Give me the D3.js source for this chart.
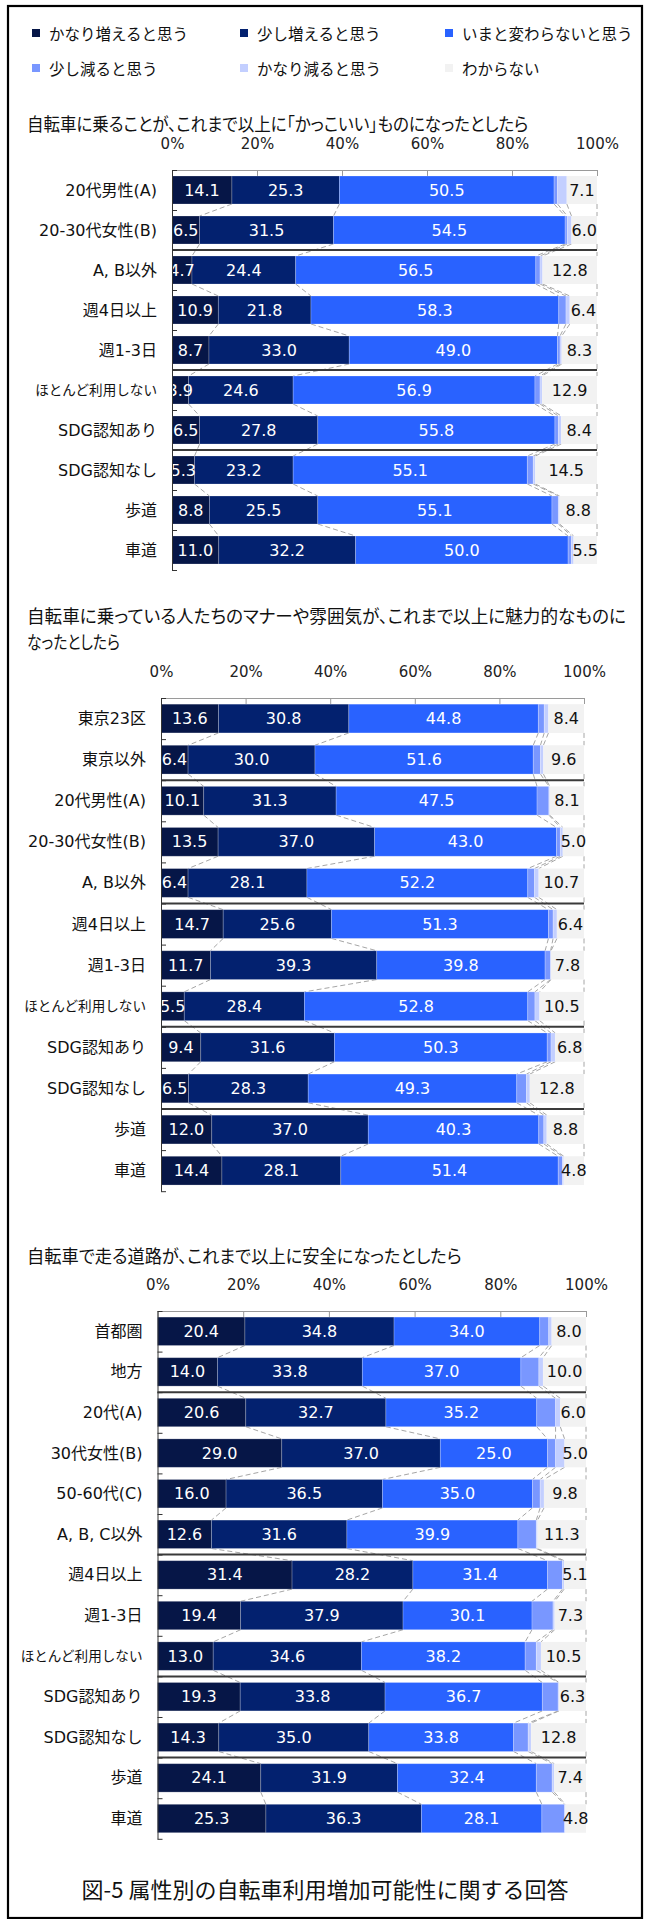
<!DOCTYPE html>
<html>
<head>
<meta charset="utf-8">
<script src="https://cdn.jsdelivr.net/npm/d3@7"></script>
<style>
body { margin: 0; background: #fff; }
.jp { font-family: 'Noto Sans CJK JP', sans-serif; fill: #111; }
.num { font-family: 'DejaVu Sans', sans-serif; }
.cat { font-family: 'DejaVu Sans', 'Noto Sans CJK JP', sans-serif; fill: #111; }
</style>
</head>
<body>
<div id="chart"></div>
<script>
// series (legend order = stack order)
var seriesNames = ["かなり増えると思う", "少し増えると思う", "いまと変わらないと思う", "少し減ると思う", "かなり減ると思う", "わからない"];
var seriesColors = ["#061647", "#03216f", "#2962ff", "#7997ff", "#c3cfff", "#f2f2f2"];
var tickValues = [0, 20, 40, 60, 80, 100];
var caption = "図-5 属性別の自転車利用増加可能性に関する回答";

// Q1
var q1Title = ["自転車に乗ることが、これまで以上に「かっこいい」ものになったとしたら"];
var q1Cats = ["20代男性(A)", "20-30代女性(B)", "A, B以外", "週4日以上", "週1-3日", "ほとんど利用しない", "SDG認知あり", "SDG認知なし", "歩道", "車道"];
var q1Values = [
    [14.1, 25.3, 50.5, 0.8, 2.2, 7.1],
    [6.5, 31.5, 54.5, 0.5, 1.0, 6.0],
    [4.7, 24.4, 56.5, 1.0, 0.6, 12.8],
    [10.9, 21.8, 58.3, 1.7, 0.9, 6.4],
    [8.7, 33.0, 49.0, 0.6, 0.4, 8.3],
    [3.9, 24.6, 56.9, 1.2, 0.5, 12.9],
    [6.5, 27.8, 55.8, 0.8, 0.7, 8.4],
    [5.3, 23.2, 55.1, 1.4, 0.5, 14.5],
    [8.8, 25.5, 55.1, 1.5, 0.3, 8.8],
    [11.0, 32.2, 50.0, 0.8, 0.5, 5.5]
];
var q1Groups = [2, 5, 7];   // a separator goes above these rows

// Q2
var q2Title = ["自転車に乗っている人たちのマナーや雰囲気が、これまで以上に魅力的なものに", "なったとしたら"];
var q2Cats = ["東京23区", "東京以外", "20代男性(A)", "20-30代女性(B)", "A, B以外", "週4日以上", "週1-3日", "ほとんど利用しない", "SDG認知あり", "SDG認知なし", "歩道", "車道"];
var q2Values = [
    [13.6, 30.8, 44.8, 1.4, 1.0, 8.4],
    [6.4, 30.0, 51.6, 1.7, 0.7, 9.6],
    [10.1, 31.3, 47.5, 2.8, 0.2, 8.1],
    [13.5, 37.0, 43.0, 0.9, 0.6, 5.0],
    [6.4, 28.1, 52.2, 1.6, 1.0, 10.7],
    [14.7, 25.6, 51.3, 1.1, 0.9, 6.4],
    [11.7, 39.3, 39.8, 1.3, 0.1, 7.8],
    [5.5, 28.4, 52.8, 1.7, 1.1, 10.5],
    [9.4, 31.6, 50.3, 0.9, 1.0, 6.8],
    [6.5, 28.3, 49.3, 2.3, 0.8, 12.8],
    [12.0, 37.0, 40.3, 1.2, 0.7, 8.8],
    [14.4, 28.1, 51.4, 1.0, 0.3, 4.8]
];
var q2Groups = [2, 5, 8, 10];

// Q3
var q3Title = ["自転車で走る道路が、これまで以上に安全になったとしたら"];
var q3Cats = ["首都圏", "地方", "20代(A)", "30代女性(B)", "50-60代(C)", "A, B, C以外", "週4日以上", "週1-3日", "ほとんど利用しない", "SDG認知あり", "SDG認知なし", "歩道", "車道"];
var q3Values = [
    [20.4, 34.8, 34.0, 2.1, 0.7, 8.0],
    [14.0, 33.8, 37.0, 4.2, 1.0, 10.0],
    [20.6, 32.7, 35.2, 4.4, 1.1, 6.0],
    [29.0, 37.0, 25.0, 1.9, 2.1, 5.0],
    [16.0, 36.5, 35.0, 1.8, 0.9, 9.8],
    [12.6, 31.6, 39.9, 4.3, 0.3, 11.3],
    [31.4, 28.2, 31.4, 3.5, 0.4, 5.1],
    [19.4, 37.9, 30.1, 4.9, 0.4, 7.3],
    [13.0, 34.6, 38.2, 2.6, 1.1, 10.5],
    [19.3, 33.8, 36.7, 3.7, 0.2, 6.3],
    [14.3, 35.0, 33.8, 3.4, 0.7, 12.8],
    [24.1, 31.9, 32.4, 3.7, 0.5, 7.4],
    [25.3, 36.3, 28.1, 5.3, 0.2, 4.8]
];
var q3Groups = [2, 6, 9, 11];

var svg = d3.select("#chart")
    .append("svg")
    .attr("width", 650)
    .attr("height", 1919);

// outer frame
svg.append("rect")
    .attr("x", 8).attr("y", 6)
    .attr("width", 634).attr("height", 1912)
    .style("fill", "none")
    .style("stroke", "#000")
    .style("stroke-width", 2.2);

// legend
var legendX = [32, 240, 445];
var legend = svg.append("g").attr("class", "legend");
seriesNames.forEach(function (name, i) {
    var lx = legendX[i % 3], ly = 33 + 35 * Math.floor(i / 3);
    legend.append("rect")
        .attr("x", lx).attr("y", ly - 4)
        .attr("width", 8).attr("height", 8)
        .style("fill", seriesColors[i]);
    legend.append("text")
        .attr("class", "jp")
        .attr("x", lx + 17).attr("y", ly)
        .attr("dominant-baseline", "central")
        .style("font-size", "15.5px")
        .text(name);
});

var labelSeries = [0, 1, 2, 5];   // which segments carry a value label
var clipCount = 0;

function drawChart(c) {
    var g = svg.append("g");
    var n = c.cats.length;

    // title lines, proportional kana, then squeezed to the original's width
    c.title.forEach(function (t, i) {
        var tg = g.append("g");
        var tt = tg.append("text")
            .attr("class", "jp")
            .attr("x", 0)
            .attr("y", 0)
            .attr("dominant-baseline", "central")
            .style("font-size", "18px")
            .style("font-feature-settings", "'palt'")
            .text(t);
        var sx = c.titleLen[i] / tt.node().getComputedTextLength();
        tg.attr("transform", "translate(27," + (c.titleY + i * 26) + ") scale(" + sx + ",1)");
    });

    var x = d3.scaleLinear().domain([0, 100]).range([c.left, c.right]);
    var y = d3.scaleBand()
        .domain(c.cats)
        .range([c.top, c.top + n * c.pitch])
        .paddingInner(0.3)
        .paddingOuter(0.15);
    var rowEdge = d3.scaleLinear().domain([0, n]).range([c.top, c.top + n * c.pitch]);
    var bw = y.bandwidth();

    var layers = d3.stack().keys(d3.range(seriesNames.length))(c.values);

    // series lines (dashed connectors between bars)
    var conn = g.append("g").attr("class", "series-lines");
    layers.forEach(function (layer) {
        for (var i = 0; i < n - 1; i++) {
            conn.append("line")
                .attr("x1", x(layer[i][1])).attr("y1", y(c.cats[i]) + bw)
                .attr("x2", x(layer[i + 1][1])).attr("y2", y(c.cats[i + 1]))
                .style("stroke", "#a6a6a6")
                .style("stroke-width", 1)
                .style("stroke-dasharray", "5,3");
        }
    });

    // top axis
    var top = g.append("g")
        .attr("transform", "translate(0," + c.top + ")")
        .call(d3.axisTop(x)
            .tickValues(tickValues)
            .tickFormat(function (d) { return d + "%"; })
            .tickSizeInner(-6)
            .tickSizeOuter(0)
            .tickPadding(21));
    top.selectAll("path, line").style("stroke", "#9a9a9a");
    top.selectAll("text")
        .attr("class", "num")
        .style("font-size", "15px")
        .style("fill", "#222");

    // bars
    layers.forEach(function (layer, k) {
        g.append("g")
            .selectAll("rect")
            .data(layer)
            .enter().append("rect")
            .attr("x", function (d) { return x(d[0]); })
            .attr("y", function (d, i) { return y(c.cats[i]); })
            .attr("width", function (d) { return x(d[1]) - x(d[0]); })
            .attr("height", bw)
            .style("fill", seriesColors[k])
            .style("stroke", k == 5 ? "none" : "rgba(255,255,255,0.28)")
            .style("stroke-width", 0.8);
    });

    // value labels, clipped at the category axis
    var clipId = "clip" + (clipCount++);
    g.append("clipPath").attr("id", clipId)
        .append("rect")
        .attr("x", c.left).attr("y", c.top)
        .attr("width", 650 - c.left).attr("height", n * c.pitch);
    var lab = g.append("g").attr("clip-path", "url(#" + clipId + ")");
    labelSeries.forEach(function (k) {
        lab.selectAll(null)
            .data(layers[k])
            .enter().append("text")
            .attr("class", "num")
            .attr("x", function (d) { return (x(d[0]) + x(d[1])) / 2; })
            .attr("y", function (d, i) { return y(c.cats[i]) + bw / 2; })
            .attr("text-anchor", "middle")
            .attr("dominant-baseline", "central")
            .style("font-size", "16px")
            .style("fill", k == 5 ? "#111" : "#fff")
            .text(function (d) { return d3.format(".1f")(d[1] - d[0]); });
    });

    // group separators
    c.groups.forEach(function (r) {
        g.append("line")
            .attr("x1", c.left).attr("x2", c.right)
            .attr("y1", rowEdge(r)).attr("y2", rowEdge(r))
            .style("stroke", "#3a3a3a")
            .style("stroke-width", 2);
    });

    // left axis with ticks between categories
    var left = g.append("g")
        .attr("transform", "translate(" + c.left + ",0)")
        .call(d3.axisLeft(rowEdge)
            .tickValues(d3.range(n + 1))
            .tickSizeInner(-5)
            .tickSizeOuter(0)
            .tickFormat(""));
    left.selectAll("path, line").style("stroke", "#333");

    // category labels
    var cats = g.append("g")
        .attr("transform", "translate(" + c.left + ",0)")
        .call(d3.axisLeft(y).tickSize(0).tickPadding(15));
    cats.select(".domain").remove();
    cats.selectAll("text")
        .attr("class", "cat")
        .attr("dy", null)
        .attr("dominant-baseline", "central")
        .style("font-size", "16px")
        .each(function () {
            var w = this.getComputedTextLength();
            if (w > 122) {
                d3.select(this).style("font-size", (16 * 122 / w) + "px");
            }
        });
}

drawChart({ title: q1Title, titleLen: [502], cats: q1Cats, values: q1Values, groups: q1Groups,
    titleY: 123, top: 170, left: 172, right: 597, pitch: 40 });
drawChart({ title: q2Title, titleLen: [599, 93], cats: q2Cats, values: q2Values, groups: q2Groups,
    titleY: 615, top: 698, left: 161, right: 584, pitch: 41.1 });
drawChart({ title: q3Title, titleLen: [435], cats: q3Cats, values: q3Values, groups: q3Groups,
    titleY: 1255, top: 1311, left: 157.5, right: 586, pitch: 40.6 });

svg.append("text")
    .attr("class", "jp")
    .attr("x", 325)
    .attr("y", 1888)
    .attr("text-anchor", "middle")
    .attr("dominant-baseline", "central")
    .style("font-size", "22px")
    .text(caption);
</script>
</body>
</html>
